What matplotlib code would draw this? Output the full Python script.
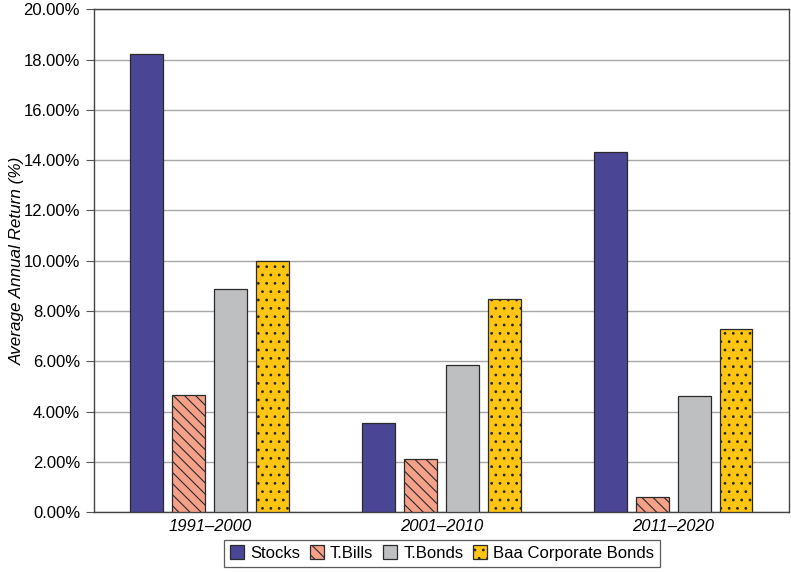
import matplotlib
matplotlib.use("Agg")
import matplotlib.pyplot as plt
import numpy as np

plt.rcParams['font.family'] = ['Liberation Sans', 'DejaVu Sans']
plt.rcParams['hatch.linewidth'] = 0.8

periods = ['1991\u20132000', '2001\u20132010', '2011\u20132020']
series = ['Stocks', 'T.Bills', 'T.Bonds', 'Baa Corporate Bonds']
stocks = [18.2, 3.55, 14.32]
tbills = [4.65, 2.1, 0.6]
tbonds = [8.87, 5.84, 4.62]
baa = [9.98, 8.47, 7.28]

colors = ['#4b4596', '#f5a088', '#bdbfc1', '#ffc512']
hatches = [None, '\\\\\\', None, '..']

fig = plt.figure(figsize=(7.91, 5.72), dpi=100)
ax = fig.add_axes([0.1188, 0.1045, 0.8786, 0.8794])

x = np.arange(len(periods))
width = 0.142
step = 0.181
for i, (name, vals) in enumerate(zip(series, [stocks, tbills, tbonds, baa])):
    ax.bar(x + (i - 1.5) * step, vals, width, color=colors[i], hatch=hatches[i],
           edgecolor='#2a2a2a', linewidth=0.9, label=name, zorder=3)

ax.set_xlim(-0.5, 2.5)
ax.set_ylim(0, 20)
ax.set_yticks(np.arange(0, 21, 2))
ax.set_yticklabels(['%.2f%%' % v for v in np.arange(0, 21, 2)], fontsize=12)
ax.set_xticks(x)
ax.set_xticklabels(periods, fontsize=12, style='italic')
ax.tick_params(axis='x', length=0, pad=5)
ax.tick_params(axis='y', length=6, width=0.8, color='#555555', pad=4)
ax.yaxis.grid(True, color='#a8a8a8', linewidth=1.0, zorder=0)
ax.set_axisbelow(True)
for s in ax.spines.values():
    s.set_color('#444444')
    s.set_linewidth(1.0)
ax.set_ylabel('Average Annual Return (%)', fontsize=12.3, style='italic', labelpad=-1)

fig.legend(loc='center', bbox_to_anchor=(0.559, 0.033), ncol=4, fontsize=12,
           frameon=True, fancybox=False, edgecolor='#333333', handlelength=0.84,
           handleheight=0.84, handletextpad=0.36, columnspacing=0.6, borderpad=0.35)
legend = fig.legends[0]
legend.get_frame().set_linewidth(0.9)

fig.savefig('out.png', dpi=100)
